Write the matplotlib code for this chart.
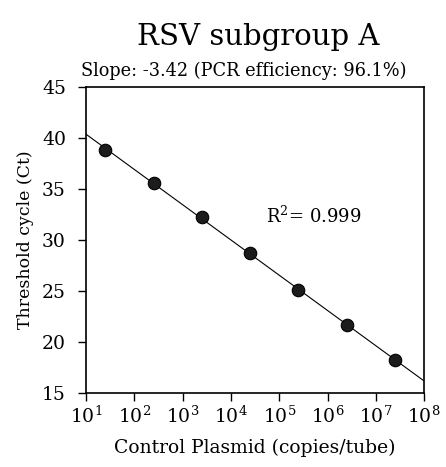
import numpy as np
import matplotlib
matplotlib.use("Agg")
import matplotlib.pyplot as plt

# standard curve data (copies/tube vs Ct)
copies = [2.5e1, 2.5e2, 2.5e3, 2.5e4, 2.5e5, 2.5e6, 2.5e7]
ct = [38.8, 35.6, 32.3, 28.7, 25.1, 21.7, 18.2]
x_ticks = [1e1, 1e2, 1e3, 1e4, 1e5, 1e6, 1e7, 1e8]
y_ticks = [15, 20, 25, 30, 35, 40, 45]

plt.rcParams['font.family'] = ['DejaVu Serif']
plt.rcParams['mathtext.fontset'] = 'dejavuserif'

fig = plt.figure(figsize=(4.46, 4.67), dpi=100)
ax = fig.add_axes([0.193, 0.1585, 0.758, 0.655])

# regression line over the full x range
slope, intercept = np.polyfit(np.log10(copies), ct, 1)
xl = np.array([1e1, 1e8])
ax.plot(xl, slope * np.log10(xl) + intercept, color='black', lw=0.8, zorder=2)
ax.plot(copies, ct, 'o', ms=9, mfc='#1c1c1c', mec='black', mew=0.8, zorder=3)

ax.set_xscale('log')
ax.set_xlim(1e1, 1e8)
ax.set_ylim(15, 45)
ax.set_xticks(x_ticks)
ax.set_yticks(y_ticks)
ax.minorticks_off()
ax.tick_params(labelsize=13.5, length=5.5, width=1, direction='out')
ax.tick_params(axis='y', pad=9)
for s in ax.spines.values():
    s.set_linewidth(1.2)

ax.set_xlabel('Control Plasmid (copies/tube)', fontsize=13.5, labelpad=9)
ax.set_ylabel('Threshold cycle (Ct)', fontsize=12.5, labelpad=6)
ax.text(10**4.73, 32.3, r'R$^2$= 0.999', fontsize=13, va='center')
ax.text(0.467, 1.052, 'Slope: -3.42 (PCR efficiency: 96.1%)', fontsize=12.8,
        ha='center', va='center', transform=ax.transAxes)
fig.text(0.578, 0.92, 'RSV subgroup A', fontsize=21, ha='center', va='center')

fig.savefig('out.png', dpi=100)
